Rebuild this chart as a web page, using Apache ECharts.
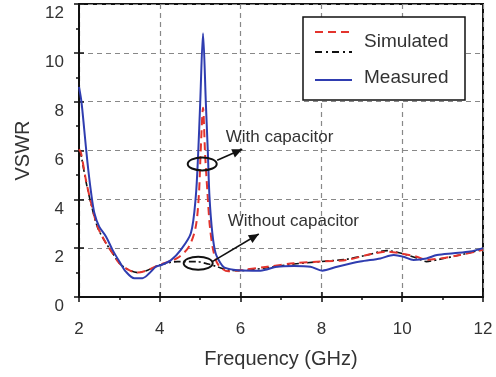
<!DOCTYPE html>
<html>
<head>
<meta charset="utf-8">
<script src="https://cdn.jsdelivr.net/npm/echarts@6/dist/echarts.min.js"></script>
<style>
html,body{margin:0;padding:0;background:#fff;}
#chart{width:496px;height:377px;}
</style>
</head>
<body>
<div id="chart"></div>
<script>
// ---- data ----
var xTicks = [2, 4, 6, 8, 10, 12];
var yTicks = [0, 2, 4, 6, 8, 10, 12];

var freqMeasured = [2.0, 2.06, 2.13, 2.21, 2.3, 2.38, 2.5, 2.67, 2.83, 3.0, 3.16, 3.37, 3.57, 3.74, 3.9, 4.02, 4.27, 4.52, 4.77, 4.89, 4.95, 5.0, 5.07, 5.14, 5.19, 5.23, 5.3, 5.38, 5.5, 5.6, 5.92, 6.49, 6.9, 7.32, 7.73, 8.02, 8.39, 8.96, 9.46, 9.79, 10.03, 10.28, 10.6, 10.86, 11.27, 11.68, 12.0];
var vswrMeasured = [8.6, 8.0, 6.85, 5.5, 4.26, 3.44, 2.88, 2.47, 1.93, 1.45, 1.04, 0.77, 0.77, 0.97, 1.24, 1.3, 1.5, 1.93, 2.62, 4.1, 5.89, 7.94, 10.8, 7.94, 5.89, 4.1, 2.62, 1.8, 1.39, 1.2, 1.1, 1.08, 1.24, 1.27, 1.24, 1.08, 1.24, 1.45, 1.58, 1.72, 1.65, 1.52, 1.58, 1.72, 1.79, 1.86, 2.0];

var freqSimCap = [2.0, 2.05, 2.17, 2.3, 2.46, 2.67, 2.83, 3.0, 3.24, 3.45, 3.7, 3.98, 4.44, 4.72, 4.89, 4.97, 5.01, 5.07, 5.12, 5.18, 5.24, 5.32, 5.42, 5.55, 5.7, 6.0, 6.66, 7.32, 7.98, 8.63, 9.13, 9.62, 9.95, 10.36, 10.6, 10.94, 11.43, 12.0];
var vswrSimCap = [6.05, 5.9, 4.8, 3.84, 2.88, 2.2, 1.8, 1.38, 1.1, 1.0, 1.1, 1.31, 1.6, 2.06, 2.88, 4.26, 5.9, 7.75, 5.9, 4.26, 2.88, 1.93, 1.39, 1.15, 1.05, 1.1, 1.24, 1.38, 1.45, 1.52, 1.72, 1.86, 1.79, 1.65, 1.52, 1.58, 1.72, 1.93];

var freqSimNoCap = [2.0, 2.05, 2.17, 2.3, 2.46, 2.67, 2.83, 3.0, 3.24, 3.45, 3.7, 3.98, 4.44, 4.9, 5.2, 5.42, 5.7, 6.0, 6.66, 7.32, 7.98, 8.63, 9.13, 9.62, 9.95, 10.36, 10.6, 10.94, 11.43, 12.0];
var vswrSimNoCap = [6.0, 5.8, 4.75, 3.8, 2.85, 2.2, 1.8, 1.38, 1.1, 1.0, 1.1, 1.3, 1.45, 1.45, 1.35, 1.24, 1.1, 1.08, 1.2, 1.35, 1.45, 1.55, 1.72, 1.9, 1.8, 1.6, 1.45, 1.55, 1.72, 1.95];

var seriesNames = ['Simulated', 'Simulated (without capacitor)', 'Measured'];
var legendLabels = ['Simulated', 'Measured'];

// annotations (data coordinates)
var annoTexts = ['With capacitor', 'Without capacitor'];
var annoEllipseCenter = [[5.05, 5.45], [4.95, 1.38]];
var annoArrowFrom = [[5.42, 5.6], [5.3, 1.45]];
var annoArrowTo = [[6.04, 6.05], [6.45, 2.58]];
var annoTextPos = [[5.63, 6.56], [5.68, 3.1]];

function zip(a, b) { return a.map(function (v, i) { return [v, b[i]]; }); }

var FONT = '"Liberation Sans", Arial, sans-serif';
var TXT = '#333';

var chart = echarts.init(document.getElementById('chart'), null, {renderer: 'canvas'});

var gridLine = {show: true, lineStyle: {color: '#888', type: [5, 4], width: 1.2}};

var option = {
  animation: false,
  backgroundColor: '#fff',
  grid: {left: 79, right: 13, top: 4, bottom: 80, show: true, borderColor: '#111', borderWidth: 2, backgroundColor: 'transparent'},
  xAxis: [{
    type: 'value', min: 2, max: 12, interval: 2,
    name: 'Frequency (GHz)', nameLocation: 'middle', nameGap: 52,
    nameTextStyle: {fontSize: 20, color: TXT, fontFamily: FONT},
    axisLine: {lineStyle: {color: '#111', width: 2}},
    axisTick: {show: true, inside: false, length: 5, lineStyle: {color: '#111', width: 1.5}},
    minorTick: {show: true, splitNumber: 2, length: 3, lineStyle: {color: '#111', width: 1.5}},
    axisLabel: {fontSize: 17, color: TXT, fontFamily: FONT, margin: 24},
    splitLine: gridLine
  }, {
    type: 'value', min: 2, max: 12, interval: 2, position: 'bottom',
    axisLine: {show: false},
    axisTick: {show: true, inside: true, length: 5, lineStyle: {color: '#111', width: 1.5}},
    minorTick: {show: false},
    axisLabel: {show: false}, splitLine: {show: false}
  }],
  yAxis: [{
    type: 'value', min: 0, max: 12, interval: 2,
    name: 'VSWR', nameLocation: 'middle', nameGap: 46,
    nameTextStyle: {fontSize: 20, color: TXT, fontFamily: FONT},
    axisLine: {show: true, lineStyle: {color: '#111', width: 2}},
    axisTick: {show: true, inside: false, length: 5, lineStyle: {color: '#111', width: 1.5}},
    minorTick: {show: true, splitNumber: 2, length: 3, lineStyle: {color: '#111', width: 1.5}},
    axisLabel: {fontSize: 17, color: TXT, fontFamily: FONT, margin: 15, verticalAlign: 'top', padding: [1, 0, 0, 0]},
    splitLine: gridLine
  }, {
    type: 'value', min: 0, max: 12, interval: 2, position: 'left',
    axisLine: {show: false},
    axisTick: {show: true, inside: true, length: 5, lineStyle: {color: '#111', width: 1.5}},
    axisLabel: {show: false}, splitLine: {show: false}
  }],
  series: [{
    name: seriesNames[1], type: 'line', data: zip(freqSimNoCap, vswrSimNoCap),
    showSymbol: false, smooth: 0.3, z: 3,
    lineStyle: {color: '#111', width: 1.6, type: [7, 3, 2, 3]}
  }, {
    name: seriesNames[0], type: 'line', data: zip(freqSimCap, vswrSimCap),
    showSymbol: false, smooth: 0.3, z: 4,
    lineStyle: {color: '#e3342d', width: 2, type: [8, 5]}
  }, {
    name: seriesNames[2], type: 'line', data: zip(freqMeasured, vswrMeasured),
    showSymbol: false, smooth: 0.3, z: 5,
    lineStyle: {color: '#2f3db0', width: 2}
  }]
};
chart.setOption(option);

function px(p) { return chart.convertToPixel({gridIndex: 0}, p); }

var graphics = [];
// legend box
graphics.push({type: 'rect', z: 100, shape: {x: 303, y: 17, width: 162, height: 83},
  style: {fill: '#fff', stroke: '#111', lineWidth: 1.5}});
graphics.push({type: 'line', z: 101, shape: {x1: 315, y1: 32, x2: 352, y2: 32},
  style: {stroke: '#e3342d', lineWidth: 2, lineDash: [8, 5]}});
graphics.push({type: 'line', z: 101, shape: {x1: 315, y1: 52, x2: 352, y2: 52},
  style: {stroke: '#111', lineWidth: 1.8, lineDash: [7, 4, 2, 4]}});
graphics.push({type: 'line', z: 101, shape: {x1: 315, y1: 80, x2: 352, y2: 80},
  style: {stroke: '#2f3db0', lineWidth: 2}});
graphics.push({type: 'text', z: 101, x: 364, y: 42,
  style: {text: legendLabels[0], font: '19px ' + FONT, fill: TXT, verticalAlign: 'middle'}});
graphics.push({type: 'text', z: 101, x: 364, y: 78,
  style: {text: legendLabels[1], font: '19px ' + FONT, fill: TXT, verticalAlign: 'middle'}});

// annotations
for (var i = 0; i < annoTexts.length; i++) {
  var c = px(annoEllipseCenter[i]);
  graphics.push({type: 'ellipse', z: 90, shape: {cx: c[0], cy: c[1], rx: 14.5, ry: 6.5},
    style: {fill: 'none', stroke: '#111', lineWidth: 2}});
  var a = px(annoArrowFrom[i]), b = px(annoArrowTo[i]);
  graphics.push({type: 'line', z: 90, shape: {x1: a[0], y1: a[1], x2: b[0], y2: b[1]},
    style: {stroke: '#111', lineWidth: 1.6}});
  var ang = Math.atan2(b[1] - a[1], b[0] - a[0]);
  var L = 10, W = 4.5;
  var bx = b[0] - L * Math.cos(ang), by = b[1] - L * Math.sin(ang);
  graphics.push({type: 'polygon', z: 90, shape: {points: [
    [b[0], b[1]],
    [bx + W * Math.sin(ang), by - W * Math.cos(ang)],
    [bx - W * Math.sin(ang), by + W * Math.cos(ang)]
  ]}, style: {fill: '#111'}});
  var t = px(annoTextPos[i]);
  graphics.push({type: 'text', z: 90, x: t[0], y: t[1],
    style: {text: annoTexts[i], font: '17px ' + FONT, fill: TXT, verticalAlign: 'middle'}});
}
chart.setOption({graphic: graphics});
</script>
</body>
</html>
